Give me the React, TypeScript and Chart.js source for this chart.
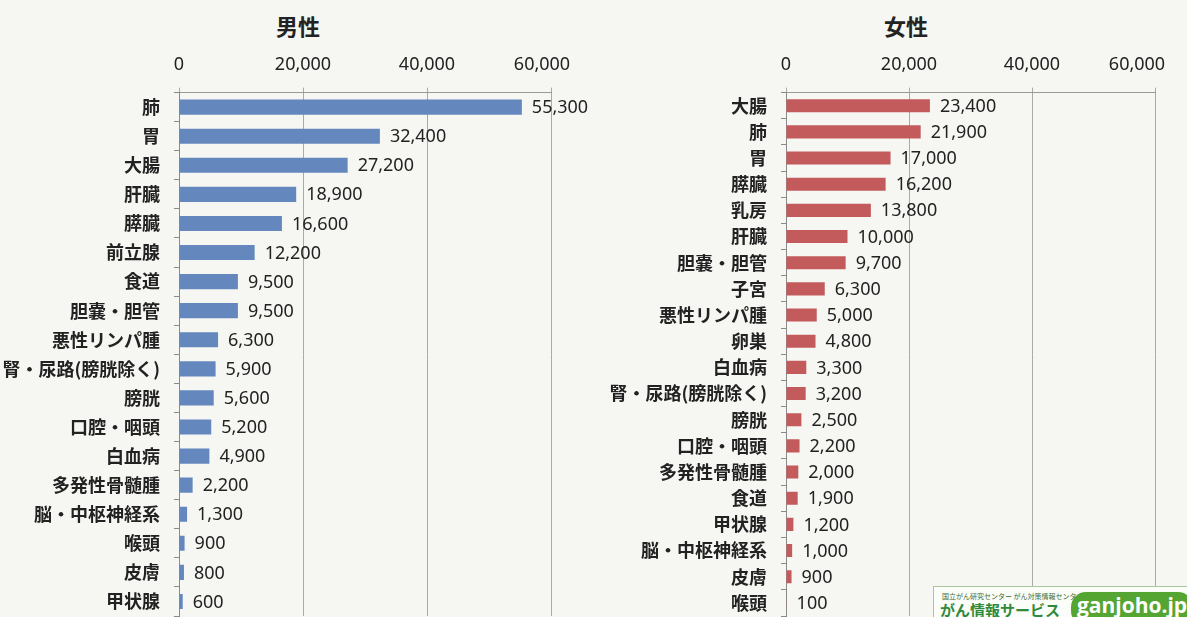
import React, { useEffect, useRef } from "react";
import { Chart, registerables } from "chart.js";

Chart.register(...registerables);

const maleCategories = [
  "肺", "胃", "大腸", "肝臓", "膵臓", "前立腺", "食道", "胆嚢・胆管", "悪性リンパ腫",
  "腎・尿路(膀胱除く)", "膀胱", "口腔・咽頭", "白血病", "多発性骨髄腫", "脳・中枢神経系",
  "喉頭", "皮膚", "甲状腺",
];
const maleValues = [55300, 32400, 27200, 18900, 16600, 12200, 9500, 9500, 6300, 5900, 5600, 5200, 4900, 2200, 1300, 900, 800, 600];

const femaleCategories = [
  "大腸", "肺", "胃", "膵臓", "乳房", "肝臓", "胆嚢・胆管", "子宮", "悪性リンパ腫", "卵巣",
  "白血病", "腎・尿路(膀胱除く)", "膀胱", "口腔・咽頭", "多発性骨髄腫", "食道", "甲状腺",
  "脳・中枢神経系", "皮膚", "喉頭",
];
const femaleValues = [23400, 21900, 17000, 16200, 13800, 10000, 9700, 6300, 5000, 4800, 3300, 3200, 2500, 2200, 2000, 1900, 1200, 1000, 900, 100];

const xMin = 0;
const xMax = 60000;
const xStep = 20000;

const maleTitle = "男性";
const femaleTitle = "女性";

const fmt = (v: number) => v.toLocaleString("en-US");

const NUM_FONT = '"Noto Sans", "DejaVu Sans", sans-serif';
const JP_FONT = '"Noto Sans CJK JP", "Noto Sans", sans-serif';

const valueLabels = {
  id: "valueLabels",
  afterDatasetsDraw(chart: any) {
    const ctx = chart.ctx;
    const meta = chart.getDatasetMeta(0);
    const data = chart.data.datasets[0].data as number[];
    ctx.save();
    ctx.font = `18px ${NUM_FONT}`;
    ctx.fillStyle = "#222";
    ctx.textBaseline = "middle";
    ctx.textAlign = "left";
    meta.data.forEach((bar: any, i: number) => {
      ctx.fillText(fmt(data[i]), bar.x + 10, bar.y + 1);
    });
    ctx.restore();
  },
};

function makeConfig(
  labels: string[],
  values: number[],
  color: string,
  padRight: number,
  yWidth: number,
  barPct: number,
  lastShift: string
): any {
  return {
    type: "bar",
    data: {
      labels,
      datasets: [
        {
          data: values,
          backgroundColor: color,
          borderWidth: 0,
          barPercentage: barPct,
          categoryPercentage: 1,
        },
      ],
    },
    plugins: [valueLabels],
    options: {
      indexAxis: "y",
      responsive: false,
      animation: false,
      devicePixelRatio: 1,
      layout: { padding: { left: 0, right: padRight, top: 42, bottom: 1 } },
      plugins: {
        legend: { display: false },
        tooltip: { enabled: false },
        title: { display: false },
      },
      scales: {
        x: {
          type: "linear",
          position: "top",
          min: xMin,
          max: xMax,
          ticks: {
            stepSize: xStep,
            color: "#222",
            padding: 12,
            font: { family: NUM_FONT, size: 18, lineHeight: 1.2 },
            callback: (v: number) => (v === xMax ? fmt(v) + lastShift : fmt(v)),
          },
          grid: { color: "#a9a9a9", lineWidth: 1, tickLength: 5, drawTicks: true },
          border: { display: true, color: "#9a9a9a" },
          afterFit: (scale: any) => {
            scale.paddingRight = 0;
            scale.paddingLeft = 0;
          },
        },
        y: {
          type: "category",
          ticks: {
            color: "#222",
            padding: 14,
            autoSkip: false,
            font: { family: JP_FONT, size: 18, weight: "bold" },
          },
          grid: {
            display: true,
            drawOnChartArea: false,
            drawTicks: true,
            tickLength: 5,
            color: "#8a8a8a",
            offset: true,
          },
          border: { display: true, color: "#8a8a8a" },
          afterFit: (scale: any) => {
            scale.width = yWidth;
            scale.paddingTop = 0;
            scale.paddingBottom = 0;
          },
        },
      },
    },
  };
}

function BarPanel(props: { left: number; width: number; config: any }) {
  const ref = useRef<HTMLCanvasElement | null>(null);
  useEffect(() => {
    if (!ref.current) return;
    const chart = new Chart(ref.current, props.config);
    return () => chart.destroy();
  }, []);
  return (
    <canvas
      ref={ref}
      width={props.width}
      height={617}
      style={{ position: "absolute", left: props.left, top: 0, width: props.width, height: 617 }}
    />
  );
}

const titleStyle = (center: number): React.CSSProperties => ({
  position: "absolute",
  left: center - 60,
  width: 120,
  top: 11,
  textAlign: "center",
  fontFamily: JP_FONT,
  fontWeight: 700,
  fontSize: 22,
  lineHeight: "28px",
  color: "#222",
});

export default function App() {
  useEffect(() => {
    document.body.style.margin = "0";
    document.body.style.background = "#f6f6f3";
    document.body.style.overflow = "hidden";
  }, []);

  const maleConfig = makeConfig(maleCategories, maleValues, "#6488bd", 44, 179, 0.52, "\u2002\u2002");
  const femaleConfig = makeConfig(femaleCategories, femaleValues, "#c35b5c", 32, 191, 0.5, "\u2002\u2002\u2002\u2002");

  return (
    <div style={{ position: "relative", width: 1187, height: 617, overflow: "hidden", background: "#f6f6f3" }}>
      <div style={titleStyle(298)}>{maleTitle}</div>
      <div style={titleStyle(906)}>{femaleTitle}</div>
      <BarPanel left={0} width={595} config={maleConfig} />
      <BarPanel left={595} width={592} config={femaleConfig} />
      <div
        style={{
          position: "absolute",
          left: 933,
          top: 586,
          width: 260,
          height: 40,
          background: "#fbfdf8",
          border: "1px solid #a9c79a",
          boxSizing: "border-box",
          fontFamily: JP_FONT,
        }}
      >
        <div style={{ position: "absolute", left: 8, top: 5, fontSize: 7, lineHeight: "8px", color: "#3d6b35", whiteSpace: "nowrap" }}>
          国立がん研究センター がん対策情報センター
        </div>
        <div style={{ position: "absolute", left: 6, top: 13, fontSize: 15, lineHeight: "20px", fontWeight: 700, color: "#2f8a3c", whiteSpace: "nowrap" }}>
          がん情報サービス
        </div>
        <div
          style={{
            position: "absolute",
            left: 137,
            top: 5,
            width: 122,
            height: 34,
            borderRadius: 15,
            background: "#55a532",
            color: "#fff",
            fontFamily: '"Open Sans", sans-serif',
            fontWeight: 700,
            fontSize: 21,
            lineHeight: "26px",
            textAlign: "center",
          }}
        >
          ganjoho.jp
        </div>
      </div>
    </div>
  );
}
